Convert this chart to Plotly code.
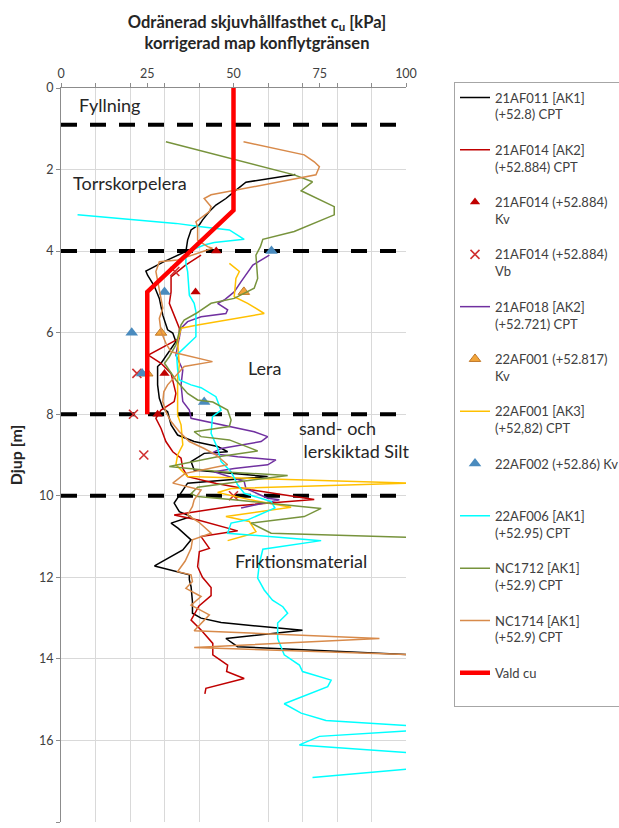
import plotly.graph_objects as go

FONT = "Lato"

# ---- CPT profiles: undrained shear strength cu [kPa] vs depth [m] ----
af011_cu = [67.9, 53.6, 50.2, 47.8, 44.9, 43.0, 41.0, 40.1, 39.1, 37.7, 36.7, 36.5, 36.2, 30.0, 24.6, 25.1,
            27.0, 28.5, 29.5, 30.9, 32.4, 33.3, 31.0, 29.0, 28.0, 28.0, 28.5, 29.5, 30.9, 31.9, 33.8, 38.6,
            45.4, 48.3, 41.5, 37.7, 38.6, 59.9, 36.7, 35.7, 34.3, 32.8, 34.3, 37.7, 31.9, 34.0, 37.7, 35.3,
            27.1, 37.2, 37.2, 37.7, 38.1, 38.1, 40.6, 46.4, 70.0, 47.8, 51.2, 102.0]
af011_depth = [2.12, 2.31, 2.54, 2.71, 2.87, 3.03, 3.24, 3.36, 3.40, 3.48, 3.73, 3.85, 4.01, 4.25, 4.49, 4.59,
               4.85, 5.16, 5.57, 5.93, 6.01, 6.22, 6.50, 6.75, 6.83, 7.28, 7.61, 7.85, 7.94, 8.26, 8.51, 8.67,
               8.79, 8.92, 8.96, 9.16, 9.37, 9.53, 9.69, 9.82, 9.98, 10.18, 10.39, 10.51, 10.67, 10.80, 11.08, 11.33,
               11.72, 11.94, 12.06, 12.23, 12.60, 12.88, 13.00, 13.11, 13.30, 13.50, 13.70, 13.90]

af014_cu = [40.6, 36.0, 31.9, 31.9, 31.4, 32.4, 33.3, 34.3, 34.3, 25.3, 29.0, 31.9, 33.3, 32.8, 29.0, 27.5,
            29.0, 30.4, 32.4, 34.8, 35.3, 36.7, 45.0, 55.0, 73.4, 50.0, 32.8, 40.0, 51.2, 40.6, 43.0, 40.1,
            39.6, 41.0, 43.5, 43.5, 40.0, 37.7, 40.6, 44.0, 44.0, 48.3, 48.0, 53.1, 42.0, 41.7]
af014_depth = [4.10, 4.35, 4.63, 5.00, 5.28, 5.48, 5.65, 5.89, 6.14, 6.55, 6.75, 7.00, 7.49, 7.69, 7.90, 8.10,
               8.35, 8.67, 8.92, 9.08, 9.33, 9.53, 9.70, 9.85, 10.09, 10.25, 10.47, 10.60, 10.86, 11.00, 11.29, 11.37,
               11.74, 12.00, 12.25, 12.45, 12.70, 13.05, 13.29, 13.62, 13.90, 14.15, 14.31, 14.48, 14.72, 14.86]

af018_cu = [60.4, 55.6, 52.2, 50.2, 47.3, 45.4, 48.3, 47.8, 40.6, 36.7, 34.8, 34.0, 33.3, 35.3, 34.8, 35.3,
            37.2, 37.7, 46.4, 56.0, 59.9, 58.0, 46.4, 43.5, 51.2, 62.3, 59.9, 50.2, 44.4, 53.1, 53.6, 59.9,
            63.3, 56.0, 52.2]
af018_depth = [4.10, 4.34, 4.75, 5.00, 5.20, 5.28, 5.44, 5.53, 5.61, 5.73, 5.89, 6.20, 6.55, 6.91, 7.28, 7.69,
               7.90, 8.10, 8.26, 8.43, 8.55, 8.67, 8.84, 8.96, 9.04, 9.12, 9.24, 9.33, 9.41, 9.65, 9.82, 10.06,
               10.10, 10.22, 10.30]

af001_cu = [48.8, 51.7, 50.7, 50.2, 54.1, 58.9, 39.6, 34.8, 33.8, 34.3, 33.8, 33.8, 33.8, 34.8, 35.3, 33.8,
            33.3, 36.7, 101.0, 49.3, 45.4, 55.0, 66.7, 47.8, 54.6, 56.5, 54.1, 48.3]
af001_depth = [4.30, 4.50, 4.67, 5.12, 5.28, 5.53, 5.81, 5.89, 6.22, 6.79, 7.12, 7.45, 8.02, 8.26, 8.75, 9.00,
               9.24, 9.53, 9.69, 9.82, 9.92, 10.10, 10.28, 10.51, 10.63, 10.88, 10.96, 11.10]

af006_cu = [4.8, 33.3, 40.6, 48.8, 53.1, 44.4, 41.5, 37.0, 36.2, 36.2, 36.7, 37.2, 38.6, 39.1, 39.1, 36.0,
            33.5, 33.8, 34.3, 37.7, 40.6, 44.9, 46.4, 43.9, 43.5, 45.4, 46.4, 49.3, 51.2, 53.1, 60.9, 62.0,
            54.1, 49.3, 48.3, 75.4, 58.5, 57.5, 57.0, 58.9, 61.3, 64.3, 65.7, 62.8, 62.8, 64.7, 69.1, 70.0,
            78.3, 77.3, 64.7, 69.6, 76.8, 101.0, 104.0, 101.0, 74.9, 69.1, 101.0, 105.0, 101.0, 72.9]
af006_depth = [3.11, 3.32, 3.40, 3.48, 3.71, 3.79, 3.85, 4.00, 4.10, 4.30, 4.50, 5.08, 5.28, 5.48, 6.10, 6.35,
               6.55, 6.90, 7.16, 7.28, 7.35, 7.57, 7.90, 8.06, 8.47, 8.84, 9.16, 9.41, 9.73, 9.94, 10.14, 10.30,
               10.59, 10.67, 10.92, 11.10, 11.31, 11.66, 12.02, 12.31, 12.56, 12.72, 12.88, 13.12, 13.50, 13.90, 14.15, 14.31,
               14.52, 14.68, 15.10, 15.33, 15.51, 15.64, 15.70, 15.76, 15.90, 16.11, 16.30, 16.50, 16.70, 16.91]

nc1712_cu = [30.4, 65.2, 67.6, 72.9, 69.6, 79.2, 79.2, 67.6, 58.5, 57.8, 56.5, 57.0, 56.0, 50.2, 43.5, 39.1,
             35.7, 34.8, 33.3, 31.4, 30.0, 33.3, 36.7, 39.6, 44.0, 48.3, 49.3, 48.8, 38.6, 40.6, 48.8, 57.0,
             45.0, 31.4, 46.4, 65.7, 39.6, 37.7, 39.6, 50.0, 75.4, 70.5, 55.1, 60.9, 101.0]
nc1712_depth = [1.32, 2.09, 2.13, 2.30, 2.52, 2.91, 3.11, 3.52, 3.71, 3.89, 4.10, 4.67, 4.91, 5.16, 5.28, 5.53,
                5.69, 5.81, 6.30, 6.59, 6.75, 7.16, 7.49, 7.65, 7.70, 7.90, 8.14, 8.30, 8.43, 8.55, 8.63, 8.90,
                9.05, 9.28, 9.41, 9.50, 9.79, 9.95, 10.02, 10.10, 10.31, 10.51, 10.67, 10.92, 11.02]

nc1714_cu = [52.9, 70.5, 73.4, 74.9, 73.9, 60.0, 51.2, 43.5, 41.5, 43.5, 43.0, 39.1, 39.6, 39.6, 42.5, 43.9,
             33.8, 28.5, 27.5, 28.5, 29.5, 28.5, 29.0, 30.4, 31.9, 43.9, 35.7, 30.9, 29.8, 29.5, 30.4, 31.9,
             34.3, 37.2, 41.5, 45.0, 48.3, 36.0, 32.4, 40.6, 38.6, 38.1, 36.7, 40.0, 43.5, 38.1, 37.7, 36.0,
             33.8, 37.7, 38.1, 36.2, 40.6, 37.7, 43.0, 38.6, 92.3, 38.6, 102.0]
nc1714_depth = [1.32, 1.64, 1.81, 1.93, 2.13, 2.35, 2.50, 2.62, 2.71, 2.91, 3.03, 3.28, 3.40, 3.73, 3.89, 3.93,
                4.22, 4.26, 4.50, 4.91, 5.40, 5.65, 5.97, 6.26, 6.47, 6.71, 6.83, 7.28, 7.45, 7.69, 7.94, 8.18,
                8.43, 8.67, 8.84, 9.00, 9.24, 9.45, 9.69, 9.86, 10.10, 10.26, 10.47, 10.65, 10.92, 11.08, 11.29, 11.60,
                11.86, 11.94, 12.10, 12.27, 12.47, 12.68, 12.92, 13.31, 13.50, 13.72, 13.90]

# ---- Vane tests (Kv) and weight sounding (Vb) ----
af014_kv_cu = [45.0, 39.0, 30.0, 28.0]
af014_kv_depth = [4.0, 5.0, 7.0, 8.0]
af014_vb_cu = [33.0, 22.0, 21.0, 24.0, 50.0]
af014_vb_depth = [4.5, 7.0, 8.0, 9.0, 10.0]
af001_kv_cu = [53.0, 29.0, 25.0]
af001_kv_depth = [5.0, 6.0, 7.0]
af002_kv_cu = [61.0, 30.0, 20.5, 23.5, 41.5]
af002_kv_depth = [4.0, 5.0, 6.0, 7.0, 7.7]

# ---- Chosen design profile ----
vald_cu = [50, 50, 25, 25]
vald_depth = [0, 3, 5, 8]

# ---- Layer boundaries and soil labels ----
boundary_depths = [0.9, 4.0, 8.0, 10.0]
layer_labels = ["Fyllning", "Torrskorpelera", "Lera", "sand- och<br>\u00a0lerskiktad Silt", "Friktionsmaterial"]
layer_label_cu = [4.6, 2.9, 53.6, 68.4, 49.9]
layer_label_depth = [0.42, 2.33, 6.87, 8.63, 11.6]

fig = go.Figure()

for d in boundary_depths:
    fig.add_trace(go.Scatter(x=[0, 100], y=[d, d], mode="lines", showlegend=False, hoverinfo="skip",
                             line=dict(color="black", width=4, dash="16px,13px")))

LW = 1.5
series = [
    dict(name="21AF011 [AK1]<br>(+52.8) CPT", x=af011_cu, y=af011_depth, mode="lines",
         line=dict(color="#000000", width=LW)),
    dict(name="21AF014 [AK2]<br>(+52.884) CPT", x=af014_cu, y=af014_depth, mode="lines",
         line=dict(color="#C00000", width=LW)),
    dict(name="21AF014 (+52.884)<br>Kv", x=af014_kv_cu, y=af014_kv_depth, mode="markers",
         marker=dict(symbol="triangle-up", size=9, color="#C00000")),
    dict(name="21AF014 (+52.884)<br>Vb", x=af014_vb_cu, y=af014_vb_depth, mode="markers",
         marker=dict(symbol="x-thin", size=9, line=dict(color="#D03030", width=1.6), color="#D03030")),
    dict(name="21AF018 [AK2]<br>(+52.721) CPT", x=af018_cu, y=af018_depth, mode="lines",
         line=dict(color="#7030A0", width=LW)),
    dict(name="22AF001 (+52.817)<br>Kv", x=af001_kv_cu, y=af001_kv_depth, mode="markers",
         marker=dict(symbol="triangle-up", size=10, color="#F2A53A", line=dict(color="#C0782A", width=1))),
    dict(name="22AF001 [AK3]<br>(+52,82) CPT", x=af001_cu, y=af001_depth, mode="lines",
         line=dict(color="#FFC000", width=LW)),
    dict(name="22AF002 (+52.86) Kv<br>\u00a0", x=af002_kv_cu, y=af002_kv_depth, mode="markers",
         marker=dict(symbol="triangle-up", size=11, color="#4A8BBE")),
    dict(name="22AF006 [AK1]<br>(+52.95) CPT", x=af006_cu, y=af006_depth, mode="lines",
         line=dict(color="#00FFFF", width=LW)),
    dict(name="NC1712 [AK1]<br>(+52.9) CPT", x=nc1712_cu, y=nc1712_depth, mode="lines",
         line=dict(color="#77933C", width=LW)),
    dict(name="NC1714 [AK1]<br>(+52.9) CPT", x=nc1714_cu, y=nc1714_depth, mode="lines",
         line=dict(color="#D88A4A", width=LW)),
    dict(name="Vald cu<br>\u00a0", x=vald_cu, y=vald_depth, mode="lines",
         line=dict(color="#FF0000", width=4.5)),
]
for i, s in enumerate(series):
    fig.add_trace(go.Scatter(legendgroup=f"g{i}", **s))

for txt, cu, dep in zip(layer_labels, layer_label_cu, layer_label_depth):
    fig.add_annotation(x=cu, y=dep, xref="x", yref="y", text=txt, showarrow=False,
                       xanchor="left", yanchor="middle", align="left",
                       font=dict(family=FONT, size=18, color="#262626"))

fig.update_layout(
    width=619, height=828,
    margin=dict(l=61, r=213, t=88, b=6, autoexpand=False),
    paper_bgcolor="white", plot_bgcolor="white",
    font=dict(family=FONT, size=13, color="#404040"),
    title=dict(text="<b>Odränerad skjuvhållfasthet c<sub>u</sub> [kPa]</b><br><b>korrigerad map konflytgränsen</b>",
               x=257 / 619, xanchor="center", y=1 - 28 / 828, yanchor="middle",
               xref="container", yref="container",
               font=dict(family=FONT, size=16.5, color="#262626")),
    legend=dict(x=(454 - 61) / 345, y=(822 - 81.5) / 734, xanchor="left", yanchor="top",
                bordercolor="#A6A6A6", borderwidth=1, bgcolor="white",
                font=dict(family=FONT, size=13, color="#404040"),
                tracegroupgap=15.5, valign="top", traceorder="grouped", maxheight=760),
    showlegend=True,
)
fig.update_xaxes(side="top", range=[0, 100], dtick=25, tick0=0, showgrid=False,
                 ticks="outside", ticklen=4, tickcolor="#8C8C8C",
                 minor=dict(dtick=10, showgrid=True, gridcolor="#D9D9D9", gridwidth=1,
                            ticks="outside", ticklen=4, tickcolor="#8C8C8C"),
                 showline=True, linecolor="#8C8C8C", linewidth=1, zeroline=False,
                 tickfont=dict(family=FONT, size=12.5, color="#404040"))
fig.update_yaxes(range=[18, 0], dtick=2, tick0=0, showgrid=True, gridcolor="#D9D9D9", gridwidth=1,
                 ticks="outside", ticklen=4, tickcolor="#8C8C8C",
                 showline=True, linecolor="#8C8C8C", linewidth=1, zeroline=False,
                 tickfont=dict(family=FONT, size=12.5, color="#404040"),
                 title=dict(text="<b>Djup [m]</b>", standoff=12,
                            font=dict(family=FONT, size=16, color="#262626")))

fig.write_html("out.html")
